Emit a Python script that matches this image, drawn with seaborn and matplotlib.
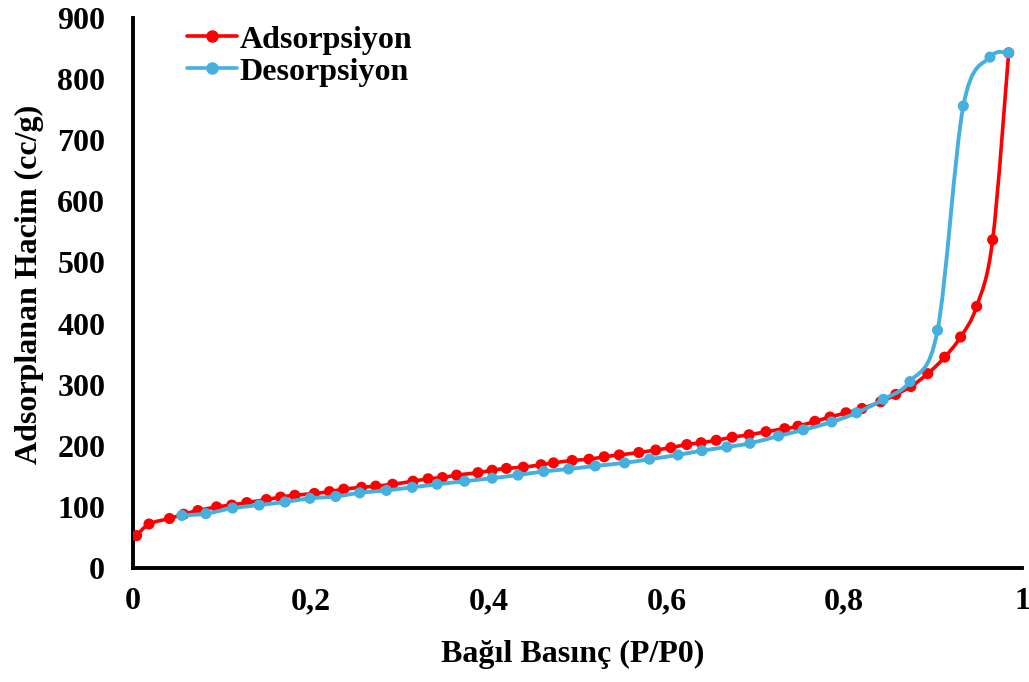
import numpy as np
import pandas as pd
import matplotlib
matplotlib.use("Agg")
import matplotlib.pyplot as plt
from matplotlib.path import Path
from matplotlib.patches import PathPatch
from matplotlib.lines import Line2D
import seaborn as sns

# Nitrogen isotherm: relative pressure vs adsorbed volume
ads_p = [0.004, 0.018, 0.041, 0.057, 0.073, 0.094, 0.111, 0.128, 0.150, 0.166,
         0.182, 0.204, 0.221, 0.237, 0.257, 0.273, 0.292, 0.315, 0.332, 0.348,
         0.364, 0.388, 0.404, 0.420, 0.439, 0.459, 0.473, 0.494, 0.513, 0.530,
         0.547, 0.569, 0.588, 0.605, 0.623, 0.639, 0.656, 0.674, 0.693, 0.712,
         0.733, 0.748, 0.767, 0.784, 0.802, 0.820, 0.841, 0.858, 0.875, 0.894,
         0.913, 0.931, 0.949, 0.967, 0.985]
ads_v = [53, 72, 81, 88, 94, 100, 103, 107, 112, 116,
         119, 122, 125, 129, 132, 134, 137, 142, 146, 148,
         152, 156, 160, 163, 165, 169, 172, 176, 178, 182,
         185, 189, 193, 197, 202, 205, 209, 214, 218, 223,
         228, 232, 240, 247, 254, 261, 272, 284, 297, 318,
         345, 378, 428, 537, 843]

des_p = [0.055, 0.082, 0.112, 0.142, 0.171, 0.199, 0.228, 0.255, 0.285, 0.314,
         0.342, 0.373, 0.404, 0.433, 0.462, 0.490, 0.520, 0.553, 0.581, 0.613,
         0.640, 0.668, 0.694, 0.726, 0.754, 0.786, 0.814, 0.844, 0.874, 0.905,
         0.934, 0.964, 0.985]
des_v = [86, 89, 98, 103, 108, 114, 117, 123, 127, 132,
         137, 142, 147, 152, 158, 162, 167, 172, 178, 185,
         192, 198, 204, 216, 226, 239, 254, 276, 305, 389,
         756, 836, 843]

x_ticks = [0, 0.2, 0.4, 0.6, 0.8, 1.0]
x_tick_labels = ["0", "0,2", "0,4", "0,6", "0,8", "1"]
y_ticks = [0, 100, 200, 300, 400, 500, 600, 700, 800, 900]

series_names = ["Adsorpsiyon", "Desorpsiyon"]
colors = {"Adsorpsiyon": "#FF0000", "Desorpsiyon": "#45AFDF"}

df = pd.concat([
    pd.DataFrame({"p": ads_p, "v": ads_v, "seri": series_names[0]}),
    pd.DataFrame({"p": des_p, "v": des_v, "seri": series_names[1]}),
], ignore_index=True)

sns.set_theme(style="white")
plt.rcParams["font.family"] = ["Liberation Serif", "DejaVu Serif"]
plt.rcParams["font.weight"] = "bold"
plt.rcParams["text.color"] = "black"

FS = 23
AX_W, AX_H = 1022 - 133, 568 - 18

fig = plt.figure(figsize=(10.29, 6.82), dpi=100)
ax = fig.add_axes([133 / 1029, 1 - 568 / 682, AX_W / 1029, AX_H / 682])


def smooth_path(xs, ys):
    """Cubic Bezier path through the points (Catmull-Rom tangents)."""
    pts = np.column_stack([xs, ys]).astype(float)
    n = len(pts)
    verts = [pts[0]]
    codes = [Path.MOVETO]
    for i in range(n - 1):
        p0 = pts[i - 1] if i > 0 else pts[i]
        p1 = pts[i]
        p2 = pts[i + 1]
        p3 = pts[i + 2] if i + 2 < n else pts[i + 1]
        verts += [p1 + (p2 - p0) / 6.0, p2 - (p3 - p1) / 6.0, p2]
        codes += [Path.CURVE4] * 3
    return Path(verts, codes)


line_widths = {"Adsorpsiyon": 2.6, "Desorpsiyon": 2.8}
for k, name in enumerate(series_names):
    sub = df[df["seri"] == name]
    ax.add_patch(PathPatch(smooth_path(sub["p"], sub["v"]), facecolor="none",
                           edgecolor=colors[name], lw=line_widths[name],
                           zorder=2 + 2 * k, capstyle="round", joinstyle="round"))
    sns.scatterplot(data=sub, x="p", y="v", color=colors[name], s=64,
                    edgecolor="none", linewidth=0, ax=ax, zorder=3 + 2 * k,
                    legend=False)

ax.set_xlim(0, 1)
ax.set_ylim(0, 900)
ax.set_xticks(x_ticks)
ax.set_xticklabels(x_tick_labels)
ax.set_yticks(y_ticks)

for side in ["top", "right"]:
    ax.spines[side].set_visible(False)
for side in ["left", "bottom"]:
    ax.spines[side].set_color("black")
    ax.spines[side].set_linewidth(2.8)
ax.spines["left"].set_bounds(0, 900)
ax.spines["bottom"].set_bounds(0, 1)

ax.tick_params(axis="both", direction="in", length=7, width=2.6, color="black",
               labelsize=FS, labelcolor="black")
ax.tick_params(axis="x", pad=14)
ax.tick_params(axis="y", pad=20)
for lab in ax.get_xticklabels() + ax.get_yticklabels():
    lab.set_fontweight("bold")

ax.set_xlabel("Bağıl Basınç (P/P0)", fontsize=FS, fontweight="bold",
              color="black")
ax.xaxis.set_label_coords((573 - 133) / AX_W, -(640 - 568) / AX_H)
ax.set_ylabel("Adsorplanan Hacim (cc/g)", fontsize=FS, fontweight="bold",
              color="black")
ax.yaxis.set_label_coords(-(133 - 44) / AX_W, (568 - 284) / AX_H)

handles = [Line2D([], [], color=colors[n], lw=2.6, marker="o", markersize=8)
           for n in series_names]
ax.legend(handles, series_names, loc="upper left",
          bbox_to_anchor=(41 / AX_W, 1.01), frameon=False,
          prop={"family": "Liberation Serif", "weight": "bold", "size": FS},
          labelcolor="black",
          handlelength=1.56, handletextpad=0.1, labelspacing=0.08,
          borderaxespad=0.0)

ax.set_facecolor("white")
fig.patch.set_facecolor("white")
fig.savefig("out.png", dpi=100, facecolor="white")
